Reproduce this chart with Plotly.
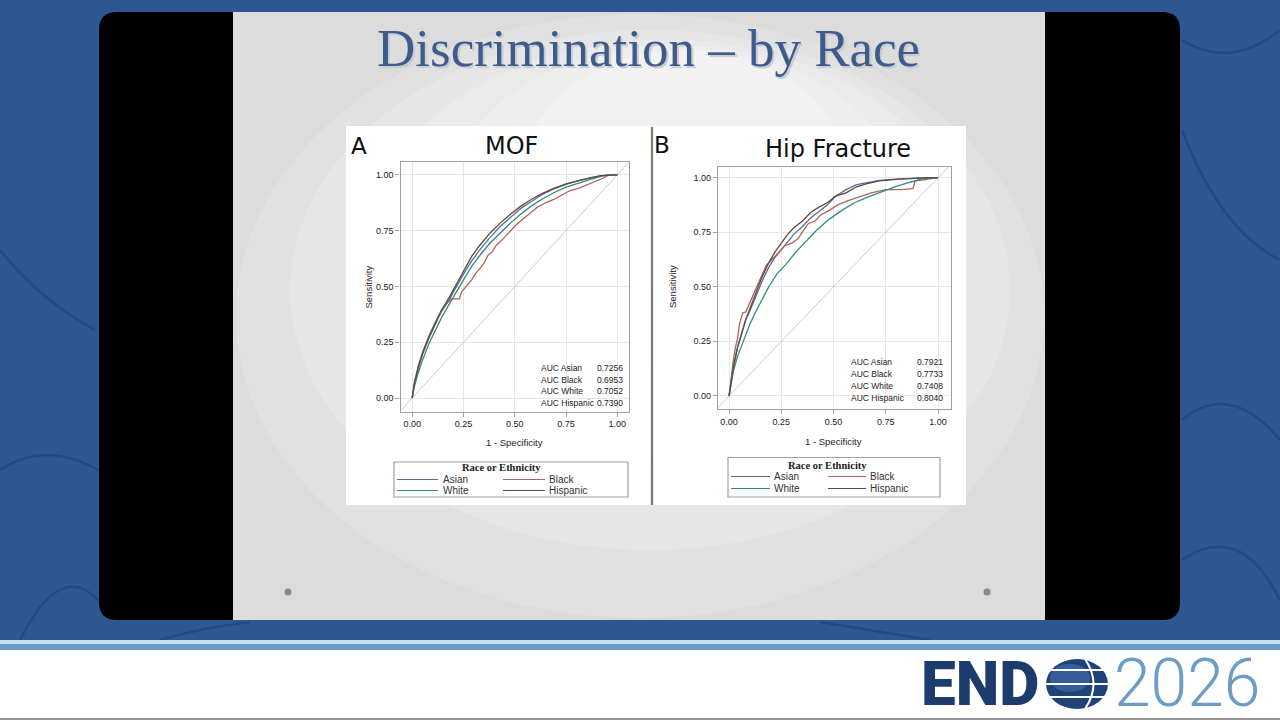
import plotly.graph_objects as go

W, H = 1280, 720

# ---- values ----
races = ['Asian', 'Black', 'White', 'Hispanic']
race_colors = ['#5b6c9c', '#b0645b', '#2f8c82', '#5f4b3d']

auc_mof = ['0.7256', '0.6953', '0.7052', '0.7390']
auc_hip = ['0.7921', '0.7733', '0.7408', '0.8040']

ticks = [0, 0.25, 0.5, 0.75, 1.0]
tick_text = ['0.00', '0.25', '0.50', '0.75', '1.00']

# MOF: 1 - specificity / sensitivity
mof_fpr = [0, 0.01, 0.03, 0.05, 0.08, 0.11, 0.14, 0.18, 0.21, 0.25, 0.29, 0.33, 0.38,
           0.43, 0.48, 0.53, 0.58, 0.63, 0.69, 0.75, 0.81, 0.87, 0.92, 0.96, 1.0]
mof_asian = [0, 0.06, 0.135, 0.195, 0.265, 0.325, 0.385, 0.44, 0.49, 0.555, 0.615, 0.665, 0.72,
             0.77, 0.81, 0.85, 0.88, 0.91, 0.937, 0.958, 0.974, 0.987, 0.996, 1.0, 1.0]
mof_white = [0, 0.05, 0.115, 0.17, 0.24, 0.30, 0.355, 0.42, 0.47, 0.53, 0.59, 0.64, 0.695,
             0.74, 0.785, 0.825, 0.86, 0.89, 0.92, 0.945, 0.964, 0.98, 0.993, 1.0, 1.0]
mof_hisp = [0, 0.06, 0.14, 0.20, 0.27, 0.33, 0.39, 0.45, 0.50, 0.57, 0.635, 0.685, 0.74,
            0.785, 0.825, 0.86, 0.89, 0.915, 0.94, 0.96, 0.975, 0.988, 0.997, 1.0, 1.0]
mof_black_fpr = [0, 0.01, 0.03, 0.05, 0.08, 0.11, 0.14, 0.17, 0.19, 0.23, 0.24, 0.27, 0.29, 0.31,
                 0.33, 0.35, 0.37, 0.39, 0.41, 0.44, 0.47, 0.50, 0.53, 0.57, 0.61, 0.65, 0.69,
                 0.73, 0.77, 0.81, 0.85, 0.89, 0.93, 0.96, 1.0]
mof_black = [0, 0.07, 0.145, 0.205, 0.275, 0.335, 0.385, 0.425, 0.445, 0.445, 0.475, 0.51, 0.53, 0.56,
             0.58, 0.605, 0.64, 0.655, 0.685, 0.71, 0.74, 0.77, 0.795, 0.825, 0.855, 0.875, 0.89,
             0.91, 0.93, 0.94, 0.955, 0.97, 0.985, 1.0, 1.0]

# Hip fracture
hip_fpr = [0, 0.01, 0.02, 0.04, 0.06, 0.08, 0.10, 0.13, 0.16, 0.19, 0.22, 0.25, 0.28, 0.31,
           0.35, 0.39, 0.43, 0.47, 0.51, 0.56, 0.61, 0.66, 0.72, 0.80, 0.88, 0.95, 1.0]
hip_asian = [0, 0.07, 0.13, 0.22, 0.29, 0.35, 0.39, 0.46, 0.53, 0.59, 0.635, 0.67, 0.705, 0.74,
             0.775, 0.815, 0.845, 0.875, 0.915, 0.945, 0.968, 0.978, 0.987, 0.993, 0.998, 1.0, 1.0]
hip_hisp = [0, 0.07, 0.13, 0.22, 0.29, 0.35, 0.40, 0.48, 0.55, 0.61, 0.66, 0.70, 0.74, 0.77,
            0.80, 0.84, 0.865, 0.885, 0.915, 0.93, 0.958, 0.972, 0.985, 0.992, 0.998, 1.0, 1.0]
hip_black_fpr = [0, 0.01, 0.02, 0.03, 0.04, 0.05, 0.065, 0.08, 0.10, 0.13, 0.16, 0.18, 0.21, 0.24,
                 0.27, 0.30, 0.33, 0.35, 0.38, 0.41, 0.44, 0.48, 0.52, 0.57, 0.62, 0.68, 0.75,
                 0.82, 0.88, 0.89, 0.93, 1.0]
hip_black = [0, 0.09, 0.16, 0.22, 0.26, 0.33, 0.38, 0.385, 0.43, 0.50, 0.56, 0.60, 0.63, 0.66,
             0.69, 0.70, 0.72, 0.75, 0.79, 0.80, 0.83, 0.85, 0.875, 0.895, 0.91, 0.93, 0.945,
             0.945, 0.95, 0.985, 0.99, 1.0]
hip_white_fpr = [0, 0.01, 0.02, 0.04, 0.07, 0.10, 0.13, 0.16, 0.19, 0.23, 0.27, 0.32, 0.37, 0.42,
                 0.48, 0.54, 0.60, 0.66, 0.73, 0.80, 0.87, 0.93, 1.0]
hip_white = [0, 0.06, 0.11, 0.18, 0.26, 0.33, 0.39, 0.445, 0.50, 0.56, 0.60, 0.66, 0.71, 0.76,
             0.81, 0.85, 0.885, 0.91, 0.935, 0.96, 0.98, 0.995, 1.0]

mof_series = [(mof_fpr, mof_asian), (mof_black_fpr, mof_black), (mof_fpr, mof_white), (mof_fpr, mof_hisp)]
hip_series = [(hip_fpr, hip_asian), (hip_black_fpr, hip_black), (hip_white_fpr, hip_white), (hip_fpr, hip_hisp)]


def fx(x):
    return x / W


def fy(y):
    return 1 - y / H


def rect(x0, y0, x1, y1, fill, line=None, lw=0, opacity=1):
    return dict(type='rect', xref='paper', yref='paper', x0=fx(x0), x1=fx(x1), y0=fy(y1), y1=fy(y0),
                fillcolor=fill, line=dict(color=line or fill, width=lw), opacity=opacity, layer='below')


def ellipse(cx, cy, rx, ry, fill, opacity=1, layer='below'):
    return dict(type='circle', xref='paper', yref='paper', x0=fx(cx - rx), x1=fx(cx + rx),
                y0=fy(cy + ry), y1=fy(cy - ry), fillcolor=fill, line=dict(width=0),
                opacity=opacity, layer=layer)


def seg(x0, y0, x1, y1, color, width=1.2, layer='above'):
    return dict(type='line', xref='paper', yref='paper', x0=fx(x0), x1=fx(x1), y0=fy(y0), y1=fy(y1),
                line=dict(color=color, width=width), layer=layer)


def text(x, y, s, size, color='#222', family='Liberation Sans', xanchor='center', weight='normal'):
    return dict(x=fx(x), y=fy(y), xref='paper', yref='paper', text=s, showarrow=False,
                xanchor=xanchor, yanchor='middle',
                font=dict(size=size, color=color, family=family, weight=weight))


def rounded(x0, y0, x1, y1, r):
    rx, ry = r / W, r / H
    a, b, c, d = fx(x0), fx(x1), fy(y1), fy(y0)
    return (f'M {a + rx},{d} L {b - rx},{d} Q {b},{d} {b},{d - ry} L {b},{c + ry} '
            f'Q {b},{c} {b - rx},{c} L {a + rx},{c} Q {a},{c} {a},{c + ry} '
            f'L {a},{d - ry} Q {a},{d} {a + rx},{d} Z')


def curve(pts):
    (x0, y0), (x1, y1), (x2, y2) = pts
    return f'M {fx(x0)},{fy(y0)} Q {fx(x1)},{fy(y1)} {fx(x2)},{fy(y2)}'


shapes = []
# blue backdrop with faint veins
shapes.append(rect(0, 0, W, 641, '#2d5790'))
veins = [
    [(0, 250), (40, 300), (95, 330)], [(0, 470), (45, 440), (98, 470)],
    [(20, 640), (60, 560), (98, 600)], [(1182, 130), (1220, 230), (1280, 260)],
    [(1182, 420), (1230, 380), (1280, 440)], [(1182, 560), (1240, 520), (1280, 600)],
    [(160, 640), (200, 628), (250, 622)], [(820, 622), (880, 632), (930, 640)],
    [(1182, 40), (1230, 70), (1280, 30)],
]
for v in veins:
    shapes.append(dict(type='path', xref='paper', yref='paper', path=curve(v), layer='below',
                       line=dict(color='#24497e', width=2.5)))
shapes.append(rect(0, 640, W, 644, '#c9e0f2'))
shapes.append(rect(0, 644, W, 650, '#6b9bcb'))
shapes.append(rect(0, 650, W, 720, '#ffffff'))
shapes.append(rect(0, 718, W, 720, '#9a9a9a'))
# black frame and slide with a soft light centre
shapes.append(dict(type='path', xref='paper', yref='paper', path=rounded(99, 12, 1180, 620, 18),
                   fillcolor='#000000', line=dict(width=0), layer='below'))
shapes.append(rect(233, 12, 1045, 620, '#dcdcdc'))
shapes.append(ellipse(640, 316, 404, 302, '#e1e1e1'))
shapes.append(ellipse(650, 290, 360, 260, '#e6e6e6'))
shapes.append(ellipse(665, 250, 300, 210, '#eaeaea'))
shapes.append(ellipse(675, 210, 230, 165, '#eeeeee'))
shapes.append(ellipse(685, 170, 160, 120, '#f2f2f2'))
for cx in (288, 987):
    shapes.append(ellipse(cx, 592, 3.5, 3.5, '#888888'))
# chart panels
shapes.append(rect(346, 126, 650, 505, '#ffffff'))
shapes.append(rect(654, 126, 966, 505, '#ffffff'))
shapes.append(seg(652, 127, 652, 505, '#555555', 1.5, 'below'))

annotations = [
    text(650, 50, 'Discrimination – by Race', 53, '#c8ccd4', 'Liberation Serif'),
    text(648, 48, 'Discrimination – by Race', 53, '#3f5b8c', 'Liberation Serif'),
    text(359, 146, 'A', 23, '#111', 'DejaVu Sans'),
    text(511, 146, 'MOF', 24, '#111', 'DejaVu Sans'),
    text(662, 145, 'B', 23, '#111', 'DejaVu Sans'),
    text(838, 149, 'Hip Fracture', 24, '#111', 'DejaVu Sans'),
    dict(x=fx(360), y=fy(287), xref='paper', yref='paper', text='Sensitivity', showarrow=False,
         textangle=-90, font=dict(size=9.5, color='#222', family='Liberation Sans')),
    dict(x=fx(672), y=fy(287), xref='paper', yref='paper', text='Sensitivity', showarrow=False,
         textangle=-90, font=dict(size=9.5, color='#222', family='Liberation Sans')),
    text(514, 442, '1 - Specificity', 9.5),
    text(833, 441, '1 - Specificity', 9.5),
]

# AUC insets
for i, r in enumerate(races):
    annotations.append(text(539, 368.5 + i * 11.5, 'AUC ' + r, 8.5, xanchor='left'))
    annotations.append(text(625, 368.5 + i * 11.5, auc_mof[i], 8.5, xanchor='right'))
    annotations.append(text(849, 362 + i * 12, 'AUC ' + r, 8.5, xanchor='left'))
    annotations.append(text(945, 362 + i * 12, auc_hip[i], 8.5, xanchor='right'))

# legends (drawn as boxes under each panel)
legend_specs = [
    dict(box=(394, 462, 628, 497), title=(501, 467.5), rows=(479.5, 490.5),
         cols=[(397, 438, 441), (503, 545, 547)]),
    dict(box=(728, 457.5, 940, 497), title=(827, 465), rows=(476.5, 488.5),
         cols=[(731, 770, 772), (828, 866, 868)]),
]
for spec in legend_specs:
    x0, y0, x1, y1 = spec['box']
    shapes.append(dict(type='rect', xref='paper', yref='paper', x0=fx(x0), x1=fx(x1),
                       y0=fy(y1), y1=fy(y0), line=dict(color='#a0a0a0', width=1.2)))
    annotations.append(text(spec['title'][0], spec['title'][1], 'Race or Ethnicity', 10.5,
                            '#222', 'Liberation Serif', weight='bold'))
    for i, r in enumerate(races):
        row, col = i // 2, i % 2
        lx0, lx1, tx = spec['cols'][col]
        yy = spec['rows'][row]
        shapes.append(seg(lx0, yy, lx1, yy, race_colors[i], 1.2))
        annotations.append(text(tx, yy, r, 10, '#333', xanchor='left'))

# ENDO 2026 logo
logo_end = text(980, 683, 'END', 62, '#1c3c6e', 'Roboto', weight=900)
logo_year = text(1112, 683, '2026', 66, '#6d9cc4', 'Roboto', xanchor='left', weight=300)
for a in (logo_end, logo_year):
    a['height'] = 60
    a['valign'] = 'middle'
    annotations.append(a)
shapes.append(ellipse(1077, 684, 31, 25, '#1f4378', layer='above'))
shapes.append(ellipse(1070, 678, 20, 14, '#3e6aa5', 0.7, layer='above'))
for yy in (670, 684, 697):
    shapes.append(seg(1046, yy, 1108, yy, '#ffffff', 2))
shapes.append(dict(type='path', xref='paper', yref='paper', layer='above',
                   path=curve([(1085, 659), (1102, 684), (1085, 709)]),
                   line=dict(color='#ffffff', width=2)))

fig = go.Figure()

panels = [
    (mof_series, 'x', 'y'),
    (hip_series, 'x2', 'y2'),
]
for series, xa, ya in panels:
    fig.add_trace(go.Scatter(x=[-0.06, 1.06], y=[-0.06, 1.06], mode='lines', xaxis=xa, yaxis=ya,
                             line=dict(color='#c3ceda', width=1), showlegend=False, hoverinfo='skip'))
    for (xs, ys), r, c in zip(series, races, race_colors):
        fig.add_trace(go.Scatter(x=xs, y=ys, mode='lines', name=r, xaxis=xa, yaxis=ya,
                                 line=dict(color=c, width=1.3), showlegend=False))

axis_style = dict(tickvals=ticks, ticktext=tick_text, showgrid=True, gridcolor='#e6e6e6',
                  gridwidth=1, zeroline=False, showline=True, mirror=True, linecolor='#a0a0a0',
                  linewidth=1.2, ticks='outside', ticklen=4, tickcolor='#a0a0a0',
                  tickfont=dict(size=9, color='#222', family='Liberation Sans'))

fig.update_layout(
    width=W, height=H, margin=dict(l=0, r=0, t=0, b=0),
    paper_bgcolor='#ffffff', plot_bgcolor='#ffffff', showlegend=False,
    xaxis=dict(domain=[fx(400.5), fx(629)], range=[-0.057, 1.057], anchor='y', **axis_style),
    yaxis=dict(domain=[fy(411.5), fy(161.5)], range=[-0.06, 1.06], anchor='x', **axis_style),
    xaxis2=dict(domain=[fx(718), fx(951)], range=[-0.053, 1.062], anchor='y2', **axis_style),
    yaxis2=dict(domain=[fy(409), fy(166.5)], range=[-0.06, 1.051], anchor='x2', **axis_style),
    shapes=shapes, annotations=annotations,
)

fig.write_html('out.html', config={'displayModeBar': False},
               post_script="document.body.style.margin='0';")
